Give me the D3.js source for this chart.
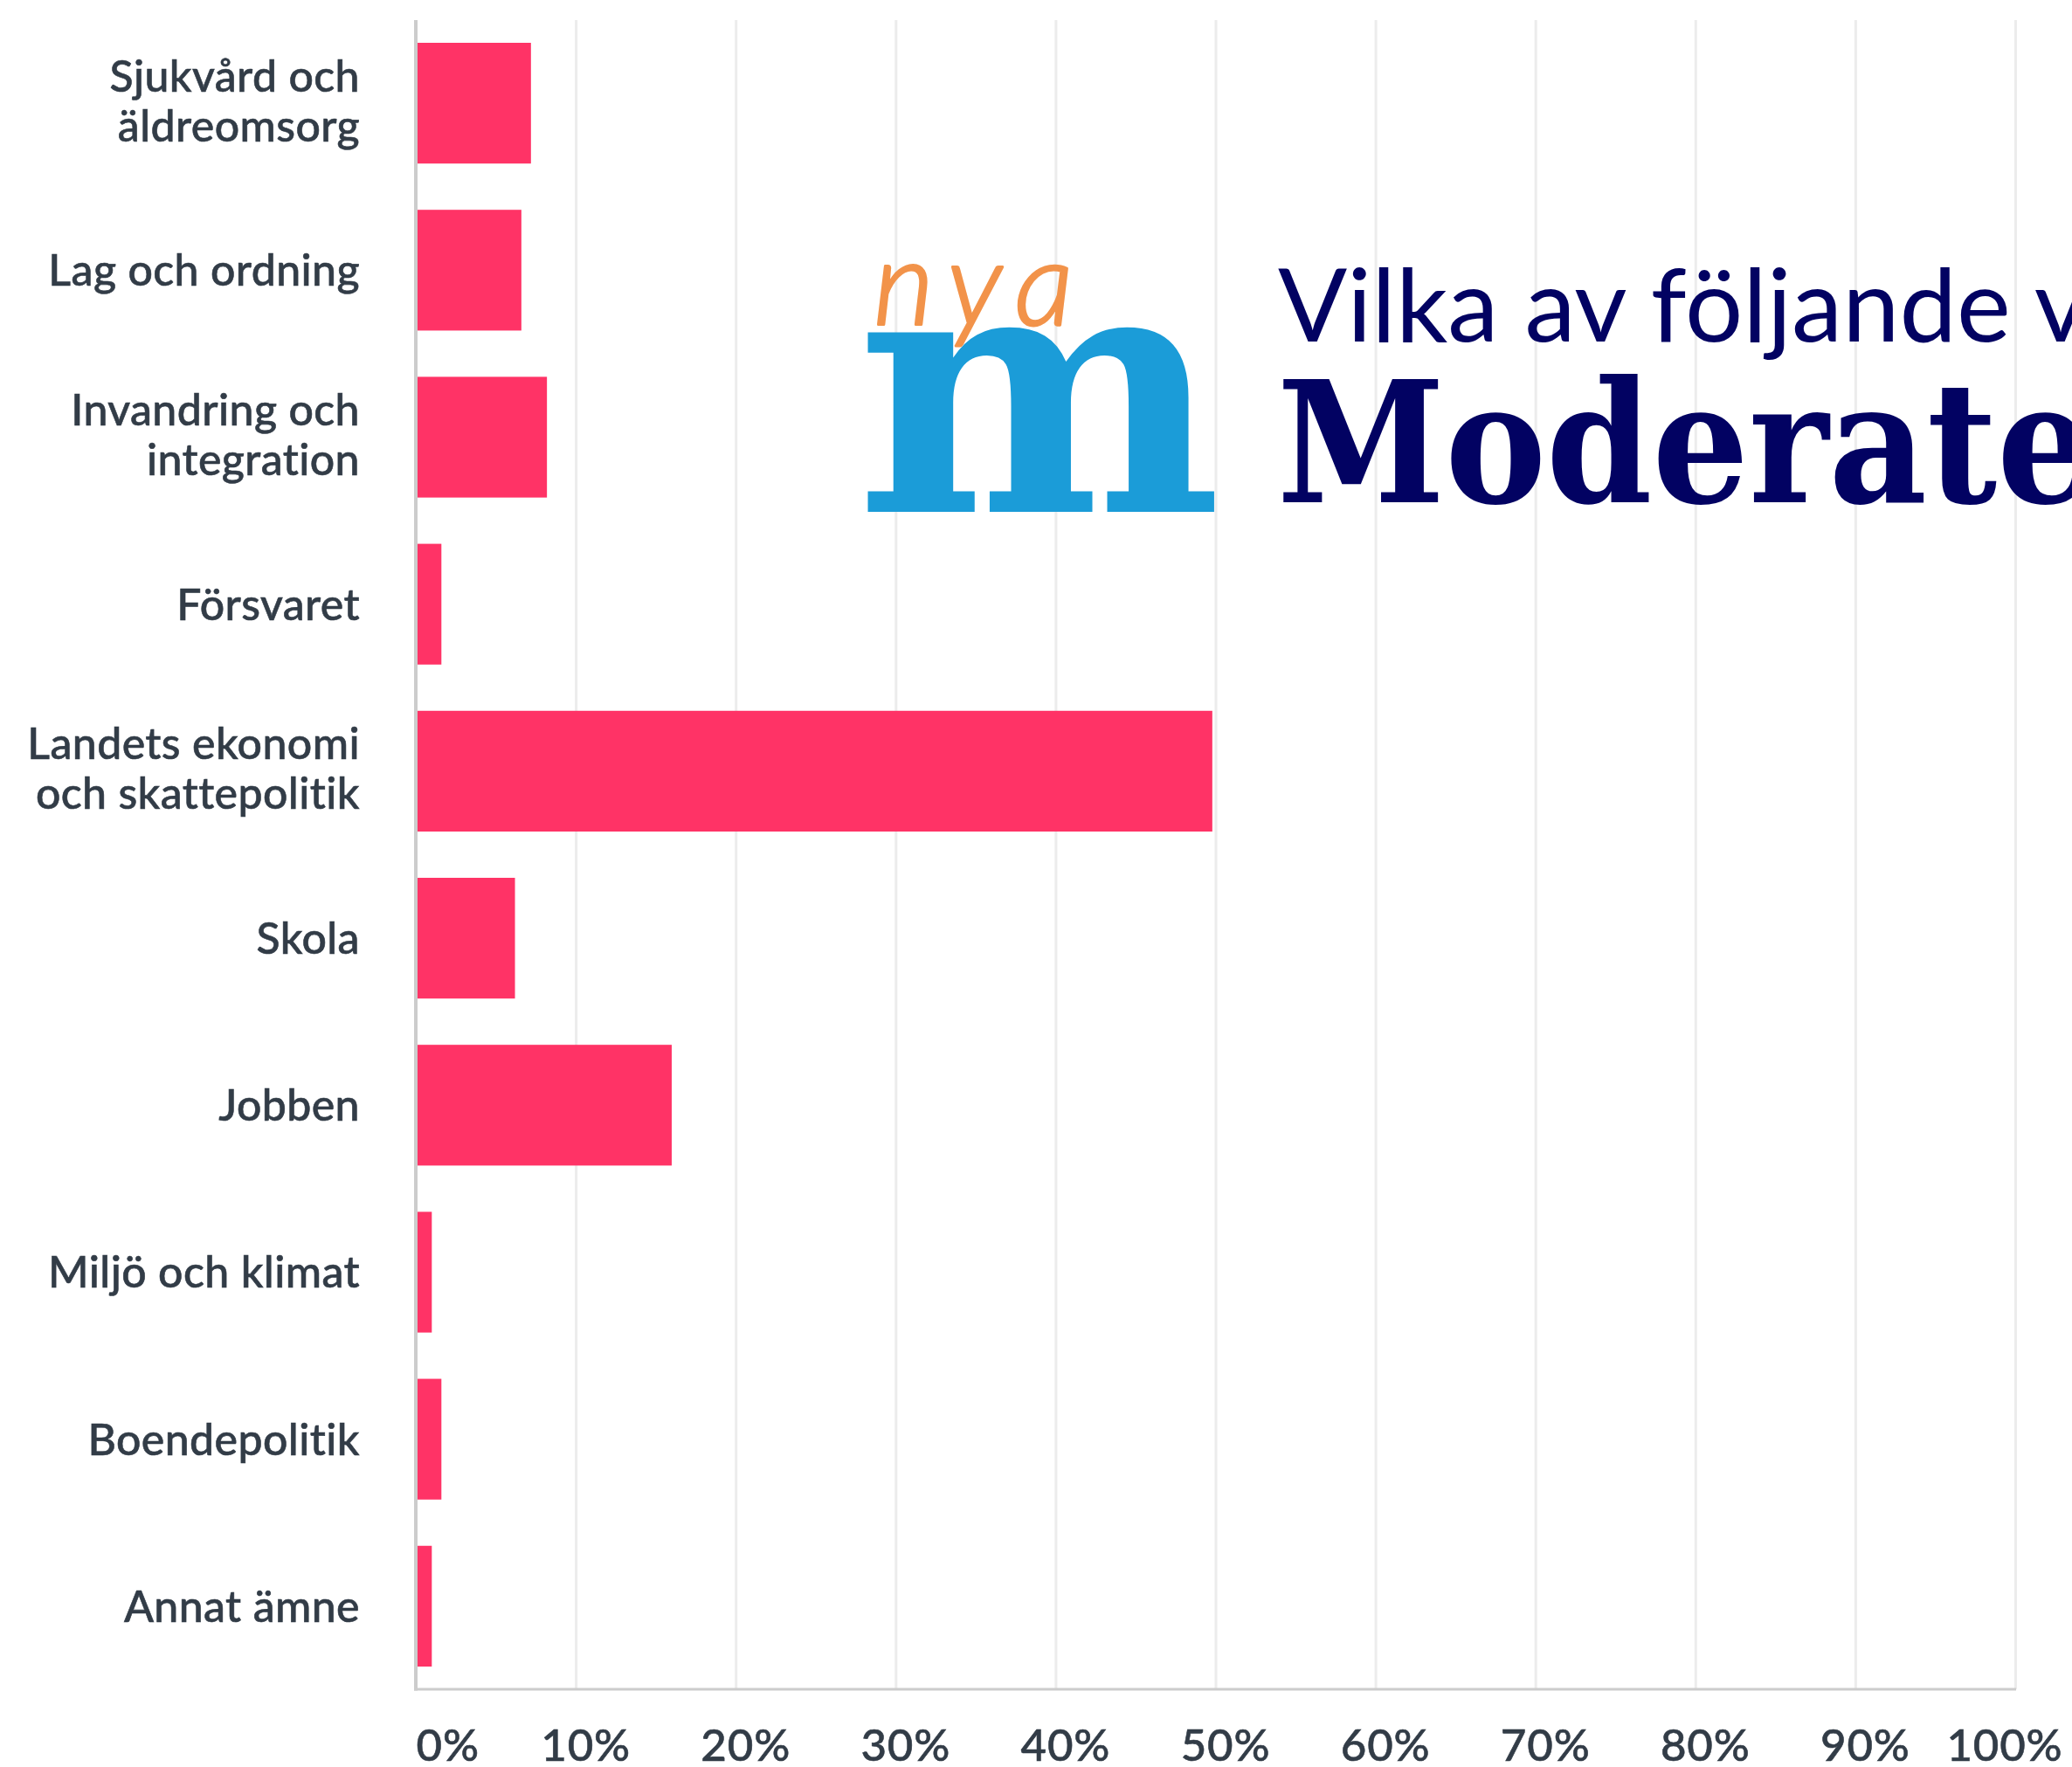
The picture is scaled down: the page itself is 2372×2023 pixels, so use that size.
<!DOCTYPE html>
<html>
<head>
<meta charset="utf-8">
<script src="https://cdn.jsdelivr.net/npm/d3@7/dist/d3.min.js"></script>
<style>
  html, body { margin: 0; padding: 0; background: #ffffff; overflow: hidden; }
  svg { display: block; }
</style>
</head>
<body>
<script>
// ---- data ----
const categories = [
  "Sjukvård och\näldreomsorg",
  "Lag och ordning",
  "Invandring och\nintegration",
  "Försvaret",
  "Landets ekonomi\noch skattepolitik",
  "Skola",
  "Jobben",
  "Miljö och klimat",
  "Boendepolitik",
  "Annat ämne"
];
const values = [7.2, 6.6, 8.2, 1.6, 49.8, 6.2, 16.0, 1.0, 1.6, 1.0];
const xTicks = [0, 10, 20, 30, 40, 50, 60, 70, 80, 90, 100];
const xTickLabels = ["0%", "10%", "20%", "30%", "40%", "50%", "60%", "70%", "80%", "90%", "100%"];
const titleLine1 = "Vilka av följande v";
const titleLine2 = "Moderate";
const logoLetter = "m";
const logoScript = "nya";

// ---- layout ----
const W = 2372, H = 2023;
const plot = { left: 476, right: 2307, top: 23, bottom: 1934 };
const textColor = "#323c47";
const barColor = "#ff3366";
const labelFont = "Lato, 'Noto Sans', sans-serif";

const svg = d3.select("body").append("svg")
  .attr("width", W).attr("height", H)
  .attr("viewBox", `0 0 ${W} ${H}`);

const x = d3.scaleLinear().domain([0, 100]).range([plot.left, plot.right]);
const y = d3.scaleBand().domain(categories).range([plot.top, plot.bottom])
  .paddingInner(0.277).paddingOuter(0.136);

// gridlines
const grid = svg.append("g")
  .attr("transform", `translate(0,${plot.bottom})`)
  .call(d3.axisBottom(x).tickValues(xTicks).tickSize(-(plot.bottom - plot.top)).tickFormat(""));
grid.select(".domain").remove();
grid.selectAll(".tick line").attr("stroke", "#ececec").attr("stroke-width", 3);

// logo + title (over grid)
const logo = svg.append("g");
logo.append("text")
  .attr("x", 980).attr("y", 586)
  .attr("font-family", "'DejaVu Serif', serif")
  .attr("font-weight", 700)
  .attr("font-size", 396)
  .attr("fill", "#1b9cd8")
  .text(logoLetter);
logo.append("text")
  .attr("x", 1000).attr("y", 372)
  .attr("font-family", "Lato, sans-serif")
  .attr("font-weight", 300)
  .attr("font-style", "italic")
  .attr("font-size", 134)
  .attr("letter-spacing", 17)
  .attr("fill", "#f2934a")
  .attr("stroke", "#f2934a")
  .attr("stroke-width", 3)
  .attr("stroke-linejoin", "round")
  .text(logoScript);

svg.append("text")
  .attr("x", 1463).attr("y", 391)
  .attr("font-family", "Lato, sans-serif")
  .attr("font-weight", 400)
  .attr("font-size", 117)
  .attr("fill", "#020262")
  .text(titleLine1);
svg.append("text")
  .attr("x", 1462).attr("y", 575)
  .attr("font-family", "'DejaVu Serif Condensed', 'DejaVu Serif', serif")
  .attr("font-stretch", "condensed")
  .attr("font-weight", 700)
  .attr("font-size", 193)
  .attr("fill", "#020262")
  .text(titleLine2);

// bars
svg.append("g").selectAll("rect")
  .data(categories)
  .join("rect")
  .attr("x", x(0))
  .attr("y", d => y(d))
  .attr("width", (d, i) => x(values[i]) - x(0))
  .attr("height", y.bandwidth())
  .attr("fill", barColor);

// axis lines
svg.append("line")
  .attr("x1", x(0)).attr("x2", x(0))
  .attr("y1", plot.top).attr("y2", plot.bottom + 1.5)
  .attr("stroke", "#cccccc").attr("stroke-width", 4);
svg.append("line")
  .attr("x1", x(0) - 2).attr("x2", x(100) + 1)
  .attr("y1", plot.bottom).attr("y2", plot.bottom)
  .attr("stroke", "#cccccc").attr("stroke-width", 3);

// category labels
const lh = 57;
const catG = svg.append("g");
categories.forEach(c => {
  const lines = c.split("\n");
  const cy = y(c) + y.bandwidth() / 2;
  const first = cy + 18 - (lines.length - 1) * lh / 2 - (lines.length - 1) * 3;
  const t = catG.append("text")
    .attr("text-anchor", "end")
    .attr("font-family", labelFont)
    .attr("font-weight", 500)
    .attr("font-size", 50)
    .attr("letter-spacing", 0.4)
    .attr("fill", textColor)
    .attr("stroke", textColor)
    .attr("stroke-width", 0.6);
  lines.forEach((ln, k) => {
    t.append("tspan").attr("x", 412).attr("y", first + k * lh).text(ln);
  });
});

// x axis labels
const xAxis = svg.append("g")
  .attr("transform", `translate(0,${plot.bottom})`)
  .call(d3.axisBottom(x).tickValues(xTicks).tickSize(0)
    .tickFormat((d, i) => xTickLabels[i]));
xAxis.select(".domain").remove();
xAxis.selectAll(".tick text")
  .attr("font-family", labelFont)
  .attr("font-weight", 500)
  .attr("font-size", 51)
  .attr("letter-spacing", 0.8)
  .attr("fill", textColor)
  .attr("stroke", textColor)
  .attr("stroke-width", 0.6)
  .attr("y", 82).attr("dy", 0)
  .attr("text-anchor", (d, i) => i === 0 ? "start" : (i === xTicks.length - 1 ? "end" : "middle"))
  .attr("dx", (d, i) => i === 0 ? 0 : (i === xTicks.length - 1 ? 54 : 11));
</script>
</body>
</html>
